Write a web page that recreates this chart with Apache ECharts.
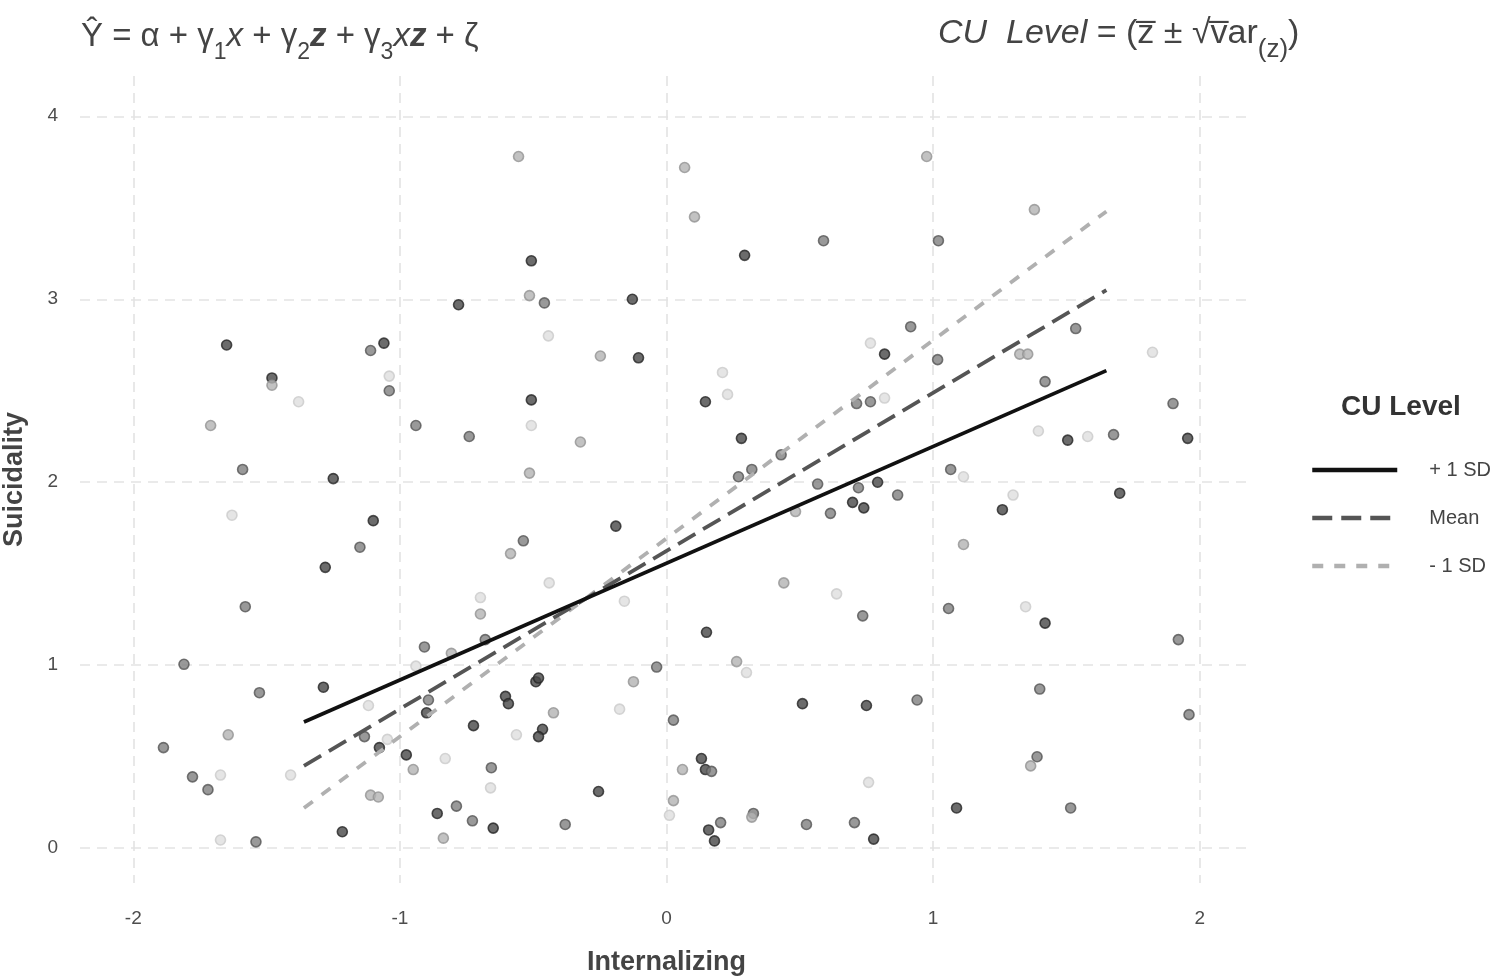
<!DOCTYPE html>
<html><head><meta charset="utf-8">
<script src="https://cdn.jsdelivr.net/npm/echarts@6/dist/echarts.min.js"></script>
<style>html,body{margin:0;padding:0;background:#fff}#c{width:1499px;height:976px}</style>
</head><body><div id="c"></div>
<script>
// Scatter observations: internalizing (x), suicidality (y), CU shade level (0 dark .. 3 very light)
const xs = [-0.78,-1.65,-1.06,-1.11,-1.48,-1.48,-1.04,-1.04,-1.38,-1.71,-0.94,-0.74,-1.59,-1.25,-0.555,0.068,0.105,0.589,0.293,-0.507,
-0.514,-0.458,-0.128,-0.443,-0.248,-0.105,0.765,0.21,0.229,-0.507,0.146,-0.507,-0.323,0.281,0.713,0.765,0.43,0.32,0.27,-0.514,
0.567,0.72,0.976,1.38,1.02,0.916,1.535,0.818,1.017,1.325,1.355,1.823,1.42,1.90,0.818,1.395,1.505,1.58,1.677,1.955,
1.066,1.114,0.792,0.867,1.30,1.70,0.74,1.26,1.114,1.058,1.347,1.42,1.92,0.736,1.40,0.94,0.75,1.96,1.39,1.366,
0.758,1.088,1.516,0.777,0.705,0.698,0.484,0.615,-0.19,-0.537,-0.585,-0.44,0.44,0.638,-0.698,-0.698,-0.158,0.15,-0.68,-0.037,
0.263,0.30,-0.124,-0.49,-0.48,-0.604,-0.593,0.51,-0.424,-0.176,-0.724,-0.465,-0.48,-0.563,0.026,0.131,0.146,0.169,0.06,-0.657,
-0.66,-0.255,0.026,0.011,0.326,0.32,0.203,0.158,0.18,0.525,-0.728,-0.65,-0.38,-1.63,-1.10,-1.15,-1.28,-1.58,-1.81,-1.527,
-1.287,-0.908,-0.94,-0.807,-1.118,-0.893,-0.90,-1.644,-1.133,-1.077,-1.047,-1.887,-0.976,-0.83,-1.41,-1.673,-1.778,-0.95,-1.72,-1.11,
-1.081,-0.86,-0.788,-1.216,-0.837,-1.673,-1.54];
const ys = [2.97,2.75,2.76,2.72,2.57,2.53,2.58,2.50,2.44,2.31,2.31,2.25,2.07,2.02,3.78,3.72,3.45,3.32,3.24,3.21,
3.02,2.98,3.00,2.80,2.69,2.68,2.76,2.60,2.48,2.45,2.44,2.31,2.22,2.24,2.43,2.44,2.15,2.07,2.03,2.05,
1.99,1.97,3.78,3.49,3.32,2.85,2.84,2.70,2.67,2.70,2.70,2.71,2.55,2.43,2.46,2.28,2.23,2.25,2.26,2.24,
2.07,2.03,2.00,1.93,1.93,1.94,1.86,1.85,1.66,1.31,1.32,1.23,1.14,1.27,0.87,0.81,0.78,0.73,0.50,0.45,
0.36,0.22,0.22,0.05,0.14,1.89,1.84,1.83,1.76,1.68,1.61,1.45,1.45,1.39,1.37,1.28,1.35,1.18,1.14,0.99,
1.02,0.96,0.91,0.91,0.93,0.83,0.79,0.79,0.74,0.76,0.67,0.65,0.61,0.62,0.70,0.49,0.43,0.42,0.43,0.44,
0.33,0.31,0.26,0.18,0.19,0.17,0.14,0.10,0.04,0.13,0.15,0.11,0.13,1.82,1.79,1.645,1.535,1.32,1.005,0.85,
0.88,1.10,0.995,1.065,0.78,0.81,0.74,0.62,0.61,0.55,0.595,0.55,0.51,0.49,0.40,0.40,0.39,0.43,0.32,0.29,
0.28,0.19,0.23,0.09,0.055,0.045,0.035];
const shade = [0,0,0,1,0,2,3,1,3,2,1,1,1,0,2,2,2,1,0,0,
2,1,0,3,2,0,3,3,3,0,0,3,2,0,1,1,1,1,1,2,
1,1,2,2,1,1,1,0,1,2,2,3,1,1,3,3,0,3,1,0,
1,3,0,1,3,0,0,0,2,1,3,0,1,1,1,1,0,1,1,2,
3,0,1,0,1,0,2,1,0,1,2,3,2,3,3,2,3,0,1,1,
2,3,2,0,0,0,0,0,2,3,0,0,0,3,1,0,0,1,2,1,
3,0,2,3,1,2,1,0,0,1,1,0,1,3,0,1,0,1,1,1,
0,1,3,2,3,1,0,2,1,0,3,1,0,3,3,3,1,2,1,2,
2,0,1,0,2,3,1];

// Simple slopes of suicidality on internalizing at three CU levels
const lineX = [-1.36, 1.65];
const plusSD = [0.69, 2.61];
const meanCU = [0.45, 3.05];
const minusSD = [0.22, 3.48];
const lineNames = ['+ 1 SD', 'Mean', '- 1 SD'];
const xTicks = [-2, -1, 0, 1, 2];
const yTicks = [0, 1, 2, 3, 4];

const shadeStyles = [
  {color: '#474747', borderColor: '#252525', borderWidth: 1.6},
  {color: '#808080', borderColor: '#555555', borderWidth: 1.6},
  {color: '#b3b3b3', borderColor: '#939393', borderWidth: 1.6},
  {color: '#dedede', borderColor: '#cbcbcb', borderWidth: 1.6}
];
const scatterData = xs.map((x, i) => ({value: [x, ys[i]], itemStyle: shadeStyles[shade[i]]}));
const mk = (arr) => lineX.map((x, i) => [x, arr[i]]);

const FONT = "'Liberation Sans', Arial, sans-serif";
const base = {color: '#444', fontFamily: FONT, fontWeight: 'normal'};
const chart = echarts.init(document.getElementById('c'), null, {renderer: 'canvas'});
chart.setOption({
  backgroundColor: '#ffffff',
  animation: false,
  textStyle: {fontFamily: FONT},
  title: [
    {
      left: 76, top: 15,
      text: '{t|Ŷ}{t| = }{t|α}{t| + }{t|γ}{s|1}{i|x}{t| + }{t|γ}{s|2}{b|z}{t| + }{t|γ}{s|3}{i|x}{b|z}{t| + }{t|ζ}',
      textStyle: {
        fontWeight: 'normal',
        rich: {
          t: Object.assign({fontSize: 33, lineHeight: 44, verticalAlign: 'top'}, base),
          i: Object.assign({fontSize: 33, fontStyle: 'italic', lineHeight: 44, verticalAlign: 'top'}, base),
          b: Object.assign({fontSize: 33, lineHeight: 44, verticalAlign: 'top'}, base, {fontWeight: 'bold', fontStyle: 'italic'}),
          s: Object.assign({fontSize: 23, lineHeight: 30, verticalAlign: 'bottom'}, base)
        }
      }
    },
    {
      left: 933, top: 12,
      text: '{i|CU  Level}{t| = (z\u0305 ± √v\u0305ar}{s|(z)}{t|)}',
      textStyle: {
        fontWeight: 'normal',
        rich: {
          t: Object.assign({fontSize: 34, lineHeight: 46, verticalAlign: 'top'}, base),
          i: Object.assign({fontSize: 34, fontStyle: 'italic', lineHeight: 46, verticalAlign: 'top'}, base),
          s: Object.assign({fontSize: 26, lineHeight: 38, verticalAlign: 'bottom'}, base)
        }
      }
    }
  ],
  graphic: [
    {type: 'text', left: 1341, top: 393, style: {text: 'CU Level', font: "bold 28px 'Liberation Sans', Arial, sans-serif", fill: '#333'}}
  ],
  legend: {
    data: lineNames,
    orient: 'vertical',
    left: 1305, top: 455,
    itemWidth: 85, itemHeight: 20, itemGap: 28,
    itemStyle: {opacity: 0},
    lineStyle: {width: 4.5},
    textStyle: {fontSize: 20, color: '#444', fontFamily: FONT, padding: [0, 0, 0, 27], lineHeight: 20},
    selectedMode: false
  },
  grid: {left: 80, right: 246, top: 76, bottom: 93, outerBoundsMode: 'none', containLabel: false},
  xAxis: {
    type: 'value', min: -2.2, max: 2.2,
    name: 'Internalizing', nameLocation: 'middle', nameGap: 66, nameMoveOverlap: false,
    nameTextStyle: {fontSize: 27, fontWeight: 'bold', color: '#444', fontFamily: FONT},
    axisLine: {show: false}, axisTick: {show: false, customValues: xTicks},
    axisLabel: {customValues: xTicks, fontSize: 19, color: '#4d4d4d', margin: 26, fontFamily: FONT},
    splitLine: {show: true, lineStyle: {color: '#e3e3e3', width: 1.6, type: [10, 7]}}
  },
  yAxis: {
    type: 'value', min: -0.19, max: 4.22,
    name: 'Suicidality', nameLocation: 'middle', nameGap: 52, nameMoveOverlap: false,
    nameTextStyle: {fontSize: 27, fontWeight: 'bold', color: '#444', fontFamily: FONT},
    axisLine: {show: false}, axisTick: {show: false, customValues: yTicks},
    axisLabel: {customValues: yTicks, fontSize: 19, color: '#4d4d4d', margin: 22, fontFamily: FONT},
    splitLine: {show: true, lineStyle: {color: '#e3e3e3', width: 1.6, type: [10, 7]}}
  },
  series: [
    {type: 'scatter', name: 'points', data: scatterData, symbolSize: 10, z: 2},
    {type: 'line', name: lineNames[0], data: mk(plusSD), symbol: 'none', z: 5,
     lineStyle: {color: '#111', width: 3.8, type: 'solid'}, itemStyle: {color: '#111'}},
    {type: 'line', name: lineNames[1], data: mk(meanCU), symbol: 'none', z: 4,
     lineStyle: {color: '#555', width: 3.8, type: [20, 9]}, itemStyle: {color: '#555'}},
    {type: 'line', name: lineNames[2], data: mk(minusSD), symbol: 'none', z: 3,
     lineStyle: {color: '#b0b0b0', width: 3.8, type: [11, 11]}, itemStyle: {color: '#b0b0b0'}}
  ]
});
</script></body></html>
